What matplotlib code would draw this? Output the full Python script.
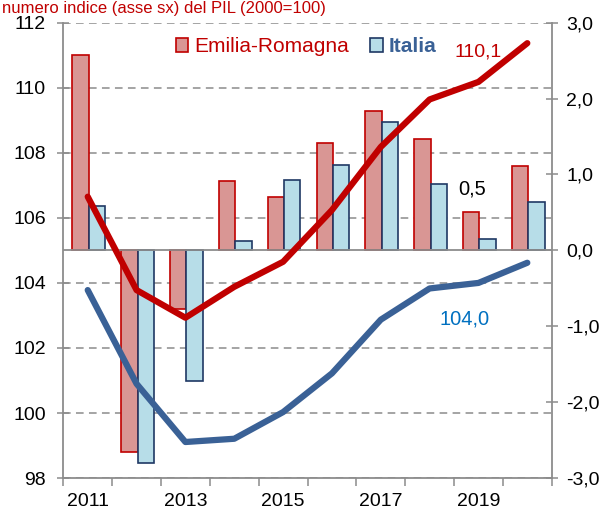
import matplotlib.pyplot as plt
import numpy as np

plt.rcParams['font.family'] = ['Liberation Sans', 'DejaVu Sans']

years = [2011, 2012, 2013, 2014, 2015, 2016, 2017, 2018, 2019, 2020]
# variazioni % (asse dx)
var_er = [2.57, -2.66, -0.77, 0.91, 0.71, 1.41, 1.84, 1.47, 0.50, 1.11]
var_it = [0.59, -2.80, -1.72, 0.12, 0.93, 1.12, 1.69, 0.87, 0.15, 0.64]
# numero indice (asse sx)
idx_er = [106.65, 103.78, 102.93, 103.88, 104.65, 106.24, 108.18, 109.64, 110.18, 111.37]
idx_it = [103.78, 100.90, 99.11, 99.21, 100.03, 101.22, 102.87, 103.83, 104.00, 104.62]

red = '#C00000'
blue = '#3A6196'
grey = '#8C8C8C'

x = np.arange(len(years))

fig = plt.figure(figsize=(6.11, 5.13), dpi=100)
ax = fig.add_axes([0.1036, 0.068, 0.7994, 0.8878])   # griglia + asse sx
axb = ax.twinx()                                     # barre, asse dx
axl = ax.twinx()                                     # linee, scala sx
axb.set_zorder(1)
axl.set_zorder(2)
axb.patch.set_visible(False)
axl.patch.set_visible(False)

# asse sinistro
ax.set_ylim(98, 112)
ax.set_yticks(np.arange(98, 113, 2))
ax.set_xlim(-0.5, 9.5)
ax.yaxis.grid(True, color=grey, linestyle=(0, (5, 3.5)), linewidth=1.1)
ax.set_axisbelow(True)
ax.tick_params(axis='y', direction='inout', length=9, width=1.1, color=grey,
               labelsize=14, pad=8)
for s in ['top', 'right']:
    ax.spines[s].set_visible(False)
for s in ['left', 'bottom']:
    ax.spines[s].set_color(grey)
    ax.spines[s].set_linewidth(1.3)

# asse x
ax.set_xticks(x[::2])
ax.set_xticklabels([str(y) for y in years[::2]])
ax.set_xticks(np.arange(-0.5, 10, 1), minor=True)
ax.tick_params(axis='x', which='major', length=0, labelsize=14, pad=11)
ax.tick_params(axis='x', which='minor', direction='out', length=6, width=1.1, color=grey)

# barre
w = 0.335
axb.bar(x - w / 2 + 0.02, var_er, w, color='#D99694', edgecolor=red, linewidth=1.2,
        label='Emilia-Romagna')
axb.bar(x + w / 2 + 0.02, var_it, w, color='#B7DDE8', edgecolor='#1F3864', linewidth=1.2,
        label='Italia')
axb.axhline(0, color=grey, linewidth=1.3, zorder=5)
axb.set_ylim(-3, 3)
axb.set_yticks(np.arange(-3, 3.1, 1))
axb.set_yticklabels([f'{v:.1f}'.replace('.', ',') for v in np.arange(-3, 3.1, 1)])
axb.tick_params(axis='y', direction='inout', length=9, width=1.1, color=grey,
                labelsize=14, pad=6)
for s in ['top', 'left', 'bottom']:
    axb.spines[s].set_visible(False)
axb.spines['right'].set_color(grey)
axb.spines['right'].set_linewidth(1.3)

# linee
axl.plot(x, idx_er, color=red, linewidth=4.5, solid_capstyle='round')
axl.plot(x, idx_it, color=blue, linewidth=4.5, solid_capstyle='round')
axl.set_ylim(98, 112)
axl.axis('off')

# etichette
axl.text(7.5, 111.1, '110,1', color=red, fontsize=14, va='center')
axl.text(7.58, 106.9, '0,5', color='black', fontsize=14.5, va='center')
axl.text(7.2, 102.9, '104,0', color='#0070C0', fontsize=14.5, va='center')

# legenda
leg = axb.legend(loc='upper left', bbox_to_anchor=(0.205, 0.995), ncol=2, frameon=False,
                 fontsize=15, handlelength=0.6, handleheight=0.6, handletextpad=0.3,
                 columnspacing=1.0, borderaxespad=0.2)
leg.get_texts()[0].set_color(red)
leg.get_texts()[1].set_color(blue)
leg.get_texts()[1].set_fontweight('bold')

# titolo in alto
fig.text(0.003, 0.999, 'numero indice (asse sx) del PIL (2000=100)', color=red,
         fontsize=12, va='top', ha='left')

fig.savefig('out.png', dpi=100)
